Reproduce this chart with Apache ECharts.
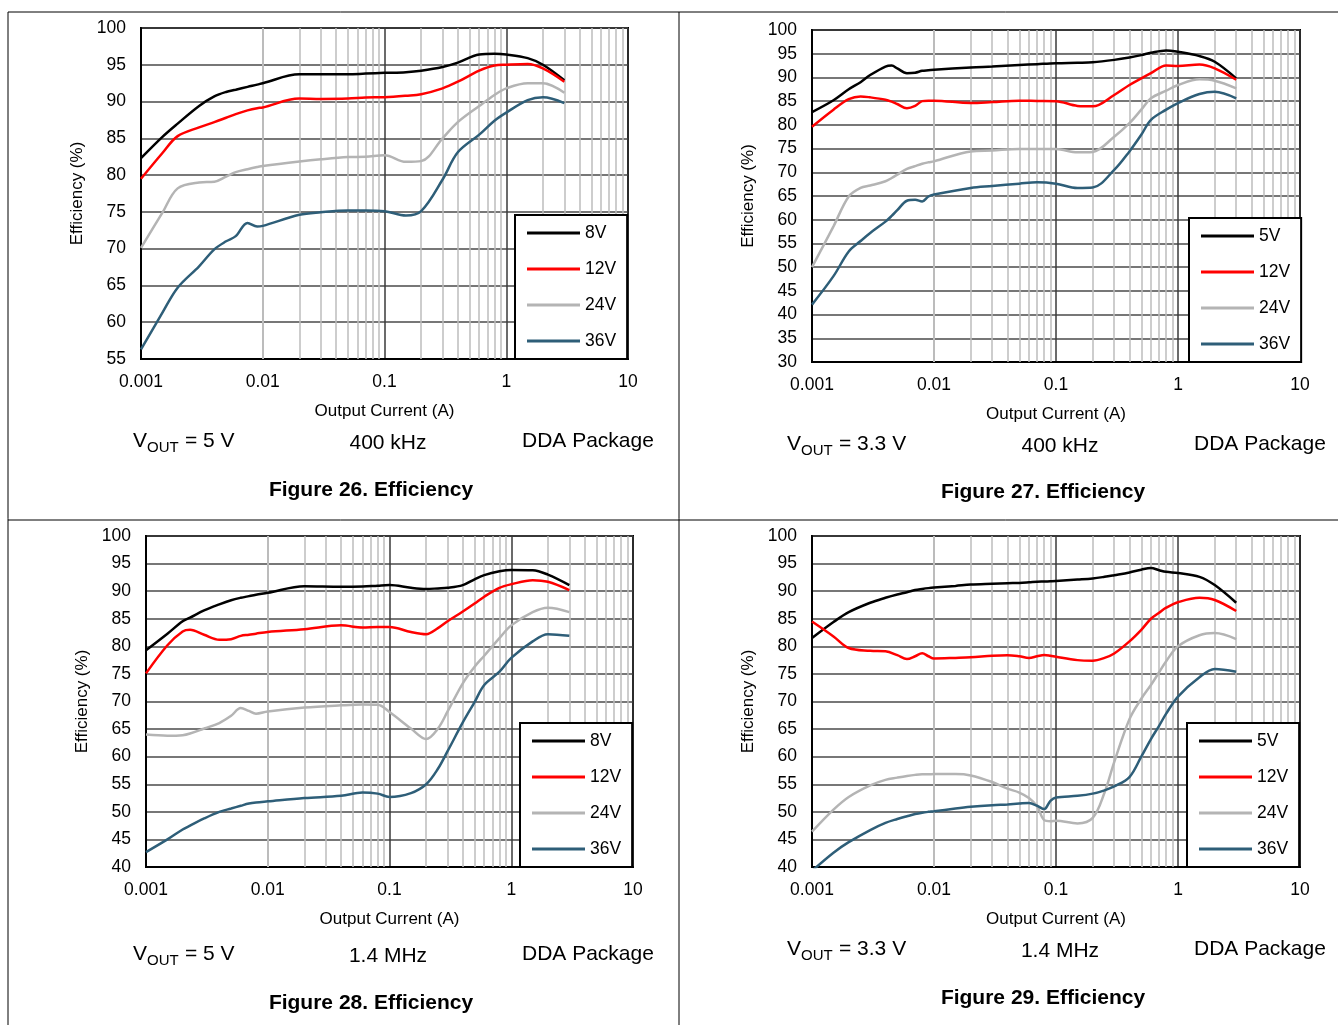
<!DOCTYPE html>
<html><head><meta charset="utf-8">
<script src="https://cdn.jsdelivr.net/npm/echarts@6/dist/echarts.min.js"></script>
<style>html,body{margin:0;padding:0;background:#fff}#c{width:1338px;height:1025px}</style>
</head><body><div id="c"></div>
<script>
// ---------- DATA ----------
const xTickLabels = ['0.001', '0.01', '0.1', '1', '10'];
const minorGrid = [0.002,0.003,0.004,0.005,0.006,0.007,0.008,0.009,
                   0.02,0.03,0.04,0.05,0.06,0.07,0.08,0.09,
                   0.2,0.3,0.4,0.5,0.6,0.7,0.8,0.9,
                   2,3,4,5,6,7,8,9];

// Figure 26: VOUT = 5 V, 400 kHz
const f26_names = ['8V', '12V', '24V', '36V'];
const f26_I   = [0.001,0.0015,0.002,0.003,0.004,0.005,0.006,0.0075,0.009,0.01,0.02,0.03,0.05,0.07,0.1,0.15,0.2,0.3,0.4,0.6,0.8,1,1.5,2,3];
const f26_8V  = [82.3,85.2,87.0,89.4,90.7,91.3,91.6,92.0,92.3,92.5,93.7,93.7,93.7,93.8,93.9,94.0,94.2,94.7,95.3,96.4,96.5,96.4,95.9,95.0,92.9];
const f26_12V = [79.5,83.0,85.3,86.5,87.2,87.8,88.3,88.8,89.1,89.2,90.4,90.35,90.4,90.55,90.6,90.8,91.0,91.8,92.7,94.2,94.9,95.0,95.1,94.5,92.7];
const f26_24V = [70.1,74.9,78.2,79.0,79.1,79.8,80.4,80.8,81.1,81.25,81.85,82.15,82.45,82.5,82.7,81.8,81.9,85.0,87.2,89.4,90.9,91.8,92.5,92.5,91.2];
const f26_36V = [56.3,61.3,64.7,67.6,69.9,71.0,71.7,73.5,73.0,73.1,74.6,74.95,75.2,75.2,75.1,74.5,75.1,79.4,83.1,85.5,87.4,88.5,90.2,90.6,89.8];

// Figure 27: VOUT = 3.3 V, 400 kHz
const f27_names = ['5V', '12V', '24V', '36V'];
const f27_I   = [0.001,0.0015,0.002,0.0025,0.003,0.004,0.0045,0.005,0.006,0.007,0.008,0.009,0.01,0.02,0.03,0.05,0.07,0.1,0.15,0.2,0.3,0.4,0.5,0.6,0.8,1,1.5,2,3];
const f27_5V  = [82.7,85.2,87.5,89.0,90.5,92.3,92.5,91.9,90.9,91.0,91.4,91.5,91.6,92.1,92.3,92.6,92.8,93.0,93.1,93.2,93.7,94.2,94.7,95.2,95.7,95.4,94.5,93.3,89.8];
const f27_12V = [79.6,83.2,85.4,86.0,85.8,85.3,84.9,84.4,83.5,84.0,85.0,85.1,85.1,84.6,84.8,85.1,85.05,85.0,84.0,83.9,86.3,88.4,89.8,90.9,92.5,92.4,92.7,91.9,89.5];
const f27_24V = [50.0,58.6,64.9,66.7,67.2,68.1,68.8,69.5,70.7,71.3,71.8,72.1,72.3,74.4,74.6,74.9,74.9,74.9,74.2,74.3,77.5,80.35,83.2,85.6,87.2,88.4,89.6,89.3,87.7];
const f27_36V = [42.1,48.1,53.3,55.5,57.2,59.6,60.8,62.0,64.0,64.2,63.85,64.9,65.3,66.7,67.1,67.6,67.9,67.6,66.7,66.8,70.5,74.4,77.9,81.05,83.2,84.6,86.5,87.0,85.6];

// Figure 28: VOUT = 5 V, 1.4 MHz
const f28_names = ['8V', '12V', '24V', '36V'];
const f28_I   = [0.001,0.0015,0.002,0.0023,0.003,0.004,0.005,0.006,0.007,0.008,0.01,0.02,0.04,0.06,0.08,0.1,0.15,0.2,0.25,0.3,0.4,0.5,0.6,0.8,1,1.5,2,3];
const f28_8V  = [79.3,82.3,84.55,85.2,86.5,87.6,88.35,88.8,89.1,89.35,89.7,90.9,90.8,90.85,91.0,91.1,90.6,90.4,90.5,90.6,91.1,92.15,92.9,93.6,93.85,93.8,93.0,91.1];
const f28_12V = [75.1,80.2,82.7,83.0,82.1,81.2,81.3,81.9,82.1,82.3,82.6,83.1,83.8,83.4,83.5,83.5,82.6,82.2,83.3,84.55,86.3,87.75,89.0,90.6,91.25,92.0,91.7,90.2];
const f28_24V = [64.0,63.8,63.9,64.2,65.1,66.1,67.4,68.8,68.3,67.8,68.2,68.9,69.3,69.45,69.4,68.1,65.1,63.2,65.1,68.2,73.3,76.3,78.3,81.5,83.8,86.2,87.0,86.2];
const f28_36V = [42.7,45.0,46.8,47.5,48.8,50.0,50.6,51.1,51.5,51.7,51.9,52.5,52.9,53.5,53.3,52.7,53.4,55.0,57.8,61.0,66.2,69.9,73.0,75.4,77.9,80.9,82.2,81.9];

// Figure 29: VOUT = 3.3 V, 1.4 MHz
const f29_names = ['5V', '12V', '24V', '36V'];
const f29_I   = [0.001,0.0015,0.002,0.003,0.004,0.005,0.006,0.007,0.008,0.009,0.01,0.015,0.02,0.03,0.04,0.05,0.06,0.07,0.08,0.09,0.1,0.15,0.2,0.25,0.3,0.4,0.5,0.6,0.7,0.8,1,1.5,2,3];
const f29_5V  = [81.5,84.4,86.2,87.9,88.8,89.4,89.8,90.2,90.4,90.55,90.65,90.95,91.2,91.35,91.45,91.5,91.6,91.7,91.75,91.8,91.85,92.1,92.3,92.6,92.9,93.4,93.9,94.2,93.8,93.5,93.3,92.6,91.1,87.9];
const f29_12V = [84.5,81.8,79.7,79.2,79.1,78.4,77.7,78.2,78.75,78.2,77.8,77.9,78.0,78.3,78.4,78.2,77.9,78.2,78.45,78.3,78.1,77.5,77.4,77.9,78.7,80.9,83.0,85.0,86.1,87.0,88.0,88.8,88.4,86.4];
const f29_24V = [46.4,50.4,52.7,54.8,55.8,56.2,56.5,56.7,56.8,56.8,56.85,56.85,56.6,55.4,54.2,53.5,52.5,51.0,48.5,48.3,48.4,47.9,48.9,53.5,59.0,66.8,70.5,73.0,75.3,77.3,80.0,82.0,82.4,81.3];
const f29_36V = [39.3,42.6,44.5,46.7,48.0,48.7,49.2,49.6,49.85,50.0,50.1,50.6,50.9,51.2,51.35,51.5,51.6,51.1,50.5,52.0,52.6,52.9,53.3,53.9,54.6,56.3,60.0,63.2,65.6,67.8,70.9,74.4,75.9,75.4];

const yMins = [55, 30, 40, 40];
const voutText = ['= 5 V', '= 3.3 V', '= 5 V', '= 3.3 V'];
const freqText = ['400 kHz', '400 kHz', '1.4 MHz', '1.4 MHz'];
const pkgText = 'DDA Package';
const figTitles = ['Figure 26. Efficiency', 'Figure 27. Efficiency', 'Figure 28. Efficiency', 'Figure 29. Efficiency'];
const xName = 'Output Current (A)';
const yName = 'Efficiency (%)';

// ---------- LAYOUT / STYLE ----------
const FONT = '"Liberation Sans", Arial, sans-serif';
const colors = ['#000000', '#ff0000', '#b4b4b4', '#2e5e78'];
const panels = [
  { I: f26_I, vals: [f26_8V, f26_12V, f26_24V, f26_36V], names: f26_names,
    grid: { left: 141, top: 28, width: 487, height: 331 }, legend: { left: 515, top: 215 } },
  { I: f27_I, vals: [f27_5V, f27_12V, f27_24V, f27_36V], names: f27_names,
    grid: { left: 812, top: 30, width: 488, height: 332 }, legend: { left: 1189, top: 218 } },
  { I: f28_I, vals: [f28_8V, f28_12V, f28_24V, f28_36V], names: f28_names,
    grid: { left: 146, top: 536, width: 487, height: 331 }, legend: { left: 520, top: 723 } },
  { I: f29_I, vals: [f29_5V, f29_12V, f29_24V, f29_36V], names: f29_names,
    grid: { left: 812, top: 536, width: 488, height: 331 }, legend: { left: 1187, top: 723 } }
];
const captionPos = [
  { vx: 133, fx: 388, px: 522, cy: 443, tx: 371, ty: 490 },
  { vx: 787, fx: 1060, px: 1194, cy: 446, tx: 1043, ty: 492 },
  { vx: 133, fx: 388, px: 522, cy: 956, tx: 371, ty: 1003 },
  { vx: 787, fx: 1060, px: 1194, cy: 951, tx: 1043, ty: 998 }
];

const grids = [], xAxes = [], yAxes = [], series = [], legends = [], graphics = [];
panels.forEach((p, k) => {
  grids.push(Object.assign({ show: true, borderColor: '#000', borderWidth: 2, backgroundColor: 'transparent' }, p.grid));
  xAxes.push({
    type: 'log', logBase: 10, gridIndex: k, min: 0.001, max: 10,
    name: xName, nameLocation: 'middle', nameGap: 44,
    nameTextStyle: { fontSize: 17, color: '#000', fontFamily: FONT },
    axisLine: { show: true, lineStyle: { color: '#000', width: 2 } },
    axisTick: { show: false },
    axisLabel: { margin: 14, fontSize: 17.5, color: '#000', fontFamily: FONT, showMinLabel: true, showMaxLabel: true,
      formatter: v => { const s = String(+Number(v).toPrecision(3)); return xTickLabels.indexOf(s) >= 0 ? s : ''; } },
    splitLine: { show: true, lineStyle: { color: '#3a3a3a', width: 1.5 } }
  });
  yAxes.push({
    type: 'value', gridIndex: k, min: yMins[k], max: 100, interval: 5,
    name: yName, nameLocation: 'middle', nameGap: 55,
    nameTextStyle: { fontSize: 17, color: '#000', fontFamily: FONT },
    axisLine: { show: true, lineStyle: { color: '#000', width: 2 } },
    axisTick: { show: false },
    axisLabel: { margin: 15, fontSize: 17.5, color: '#000', fontFamily: FONT },
    splitLine: { show: true, lineStyle: { color: '#4a4a4a', width: 1.5 } }
  });
  // minor log grid lines
  series.push({
    type: 'line', xAxisIndex: k, yAxisIndex: k, data: [], z: 1, silent: true, animation: false,
    markLine: { z: 1, silent: true, animation: false, symbol: ['none', 'none'], label: { show: false },
      lineStyle: { color: '#bdbdbd', width: 1.5, type: 'solid' },
      emphasis: { disabled: true },
      data: minorGrid.map(v => ({ xAxis: v })) }
  });
  p.names.forEach((nm, j) => {
    series.push({
      type: 'line', name: nm, xAxisIndex: k, yAxisIndex: k, z: 3,
      data: p.I.map((x, i) => [x, p.vals[j][i]]),
      smooth: 0.35, symbol: 'none', showSymbol: false, animation: false,
      lineStyle: { color: colors[j], width: 2.5 }, itemStyle: { color: colors[j] },
      emphasis: { disabled: true }
    });
  });
  legends.push({
    orient: 'vertical', left: p.legend.left, top: p.legend.top,
    padding: [9, 11, 9, 12], itemWidth: 53, itemHeight: 3, itemGap: 18,
    icon: 'rect',
    backgroundColor: '#fff', borderColor: '#000', borderWidth: 2, borderRadius: 0,
    selectedMode: false, data: p.names, z: 10,
    textStyle: { fontSize: 17.5, lineHeight: 18, color: '#000', fontFamily: FONT }
  });
  const c = captionPos[k];
  graphics.push(
    { type: 'text', left: c.vx, top: c.cy - 12, style: { text: 'V', font: '21px ' + FONT, fill: '#000' } },
    { type: 'text', left: c.vx + 14, top: c.cy - 3, style: { text: 'OUT', font: '15px ' + FONT, fill: '#000' } },
    { type: 'text', left: c.vx + 52, top: c.cy - 12, style: { text: voutText[k], font: '21px ' + FONT, fill: '#000' } },
    { type: 'text', x: c.fx, y: c.cy, style: { text: freqText[k], font: '21px ' + FONT, fill: '#000', textAlign: 'center', textVerticalAlign: 'middle' } },
    { type: 'text', left: c.px, top: c.cy - 12, style: { text: pkgText, font: '21px ' + FONT, fill: '#000' } },
    { type: 'text', x: c.tx, y: c.ty, style: { text: figTitles[k], font: 'bold 21px ' + FONT, fill: '#000', textAlign: 'center', textVerticalAlign: 'middle' } }
  );
});
// frame lines
[[8, 12, 1338, 12], [8, 520, 1338, 520], [8, 12, 8, 1025], [679, 12, 679, 1025]].forEach(l => {
  graphics.push({ type: 'line', shape: { x1: l[0], y1: l[1], x2: l[2], y2: l[3] }, style: { stroke: '#000', lineWidth: 1 } });
});

const chart = echarts.init(document.getElementById('c'), null, { renderer: 'canvas' });
chart.setOption({
  animation: false,
  backgroundColor: '#fff',
  textStyle: { fontFamily: FONT },
  grid: grids, xAxis: xAxes, yAxis: yAxes, legend: legends, series: series, graphic: graphics
});
</script></body></html>
